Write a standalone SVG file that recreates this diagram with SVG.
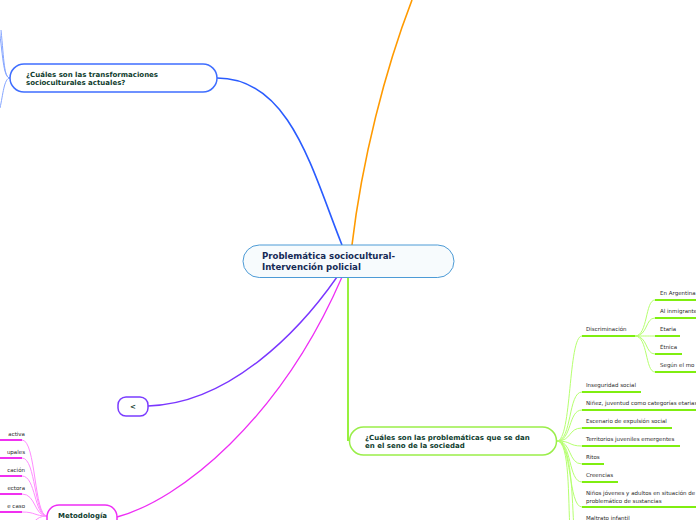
<svg xmlns="http://www.w3.org/2000/svg" width="696" height="520" viewBox="0 0 696 520">
<style>
.node{fill:#ffffff;stroke-width:1.5}
.ttl{font-family:"DejaVu Sans",Verdana,sans-serif;font-weight:bold;font-size:7px;fill:#0f3d2e}
.ctr{font-family:"DejaVu Sans",Verdana,sans-serif;font-weight:bold;font-size:8.6px;fill:#152a55}
.leaf{font-family:"DejaVu Sans",Verdana,sans-serif;font-size:5.5px;fill:#2a2a2a}
.gc{fill:none;stroke:#b6ff70;stroke-width:1}
.gu{fill:none;stroke:#7fee10;stroke-width:2}
.mc{fill:none;stroke:#ff8cff;stroke-width:1}
.mu{fill:none;stroke:#f030f0;stroke-width:2}
.bc{fill:none;stroke:#86a6ff;stroke-width:1}
</style>
<rect width="696" height="520" fill="#ffffff"/>
<g id="connectors">
  <path d="M217,78 C290,78 312,170 342,245" fill="none" stroke="#2a5cff" stroke-width="1.6"/>
  <path d="M352,245 C362,160 385,70 412,0" fill="none" stroke="#ff9a00" stroke-width="1.6"/>
  <path d="M148,406 C230,404 300,330 337,277" fill="none" stroke="#7a36ff" stroke-width="1.4"/>
  <path d="M117,517 C180,500 280,420 342,277" fill="none" stroke="#ee2ef5" stroke-width="1.3"/>
  <path d="M348,277 L348,441" fill="none" stroke="#8cf02a" stroke-width="1.8"/>
  <path class="bc" d="M10,78 C4,78 4,60 1,30"/>
  <path class="bc" d="M10,78 C3,78 3,55 -2,20"/>
  <path class="bc" d="M10,78 C4,78 3,95 0,108"/>
  <path class="gc" d="M557,441 C572,441 568,336 582,336"/>
  <path class="gc" d="M557,441 C572,441 568,392 582,392"/>
  <path class="gc" d="M557,441 C572,441 568,410 582,410"/>
  <path class="gc" d="M557,441 C572,441 568,428 582,428"/>
  <path class="gc" d="M557,441 C572,441 568,446 582,446"/>
  <path class="gc" d="M557,441 C572,441 568,464 582,464"/>
  <path class="gc" d="M557,441 C572,441 568,482 582,482"/>
  <path class="gc" d="M557,441 C572,441 568,507 582,507"/>
  <path class="gc" d="M557,441 C570,441 568,500 570,530"/>
  <path class="gc" d="M557,441 C572,441 572,500 574,530"/>
  <path class="gu" d="M582,336 L635,336"/>
  <path class="gu" d="M582,392 L641,392"/>
  <path class="gu" d="M582,410 L696,410"/>
  <path class="gu" d="M582,428 L672,428"/>
  <path class="gu" d="M582,446 L680,446"/>
  <path class="gu" d="M582,464 L604,464"/>
  <path class="gu" d="M582,482 L618,482"/>
  <path class="gu" d="M582,507 L696,507"/>
  <path class="gc" d="M635,336 C648,336 645,300 655,300"/>
  <path class="gc" d="M635,336 C648,336 645,318 655,318"/>
  <path class="gc" d="M635,336 C648,336 645,336 655,336"/>
  <path class="gc" d="M635,336 C648,336 645,354 655,354"/>
  <path class="gc" d="M635,336 C648,336 645,372 655,372"/>
  <path class="gu" d="M655,300 L696,300"/>
  <path class="gu" d="M655,318 L696,318"/>
  <path class="gu" d="M655,336 L680,336"/>
  <path class="gu" d="M655,354 L682,354"/>
  <path class="gu" d="M655,372 L696,372"/>
  <path class="mc" d="M47,516 C34,516 36,440 22,440"/>
  <path class="mc" d="M47,516 C34,516 36,458 22,458"/>
  <path class="mc" d="M47,516 C34,516 36,476 22,476"/>
  <path class="mc" d="M47,516 C34,516 36,494 22,494"/>
  <path class="mc" d="M47,516 C34,516 36,512 22,512"/>
  <path class="mc" d="M47,516 C34,516 36,525 22,528"/>
  <path class="mu" d="M0,440 L22,440"/>
  <path class="mu" d="M0,458 L22,458"/>
  <path class="mu" d="M0,476 L22,476"/>
  <path class="mu" d="M0,494 L22,494"/>
  <path class="mu" d="M0,512 L22,512"/>
</g>
<g id="central">
  <rect x="243" y="245" width="211" height="32.5" rx="16.25" fill="#f7fbfd" stroke="#4d9bd6" stroke-width="1"/>
  <text class="ctr" x="262" y="258.5">Problemática sociocultural-</text>
  <text class="ctr" x="262" y="269.5">Intervención policial</text>
</g>
<g id="transformaciones">
  <rect class="node" x="10" y="64" width="207" height="28" rx="14" stroke="#3f6eff"/>
  <text class="ttl" x="26" y="76.5">¿Cuáles son las transformaciones</text>
  <text class="ttl" x="26" y="84.5">socioculturales actuales?</text>
</g>
<g id="menor">
  <rect class="node" x="118" y="397" width="30" height="19" rx="8" stroke="#7a3cff"/>
  <text class="ttl" x="133" y="409" text-anchor="middle">&lt;</text>
</g>
<g id="metodologia">
  <rect class="node" x="47" y="505" width="70" height="28" rx="12" stroke="#ee2ef5"/>
  <text class="ttl" x="58" y="517.5">Metodología</text>
</g>
<g id="problematicas">
  <rect class="node" x="349.5" y="427" width="207" height="28" rx="14" stroke="#9aee4a"/>
  <text class="ttl" x="365" y="439.5">¿Cuáles son las problemáticas que se dan</text>
  <text class="ttl" x="365" y="447.5">en el seno de la sociedad</text>
</g>
<g id="leaves-right">
  <text class="leaf" x="586" y="331">Discriminación</text>
  <text class="leaf" x="660" y="295">En Argentina</text>
  <text class="leaf" x="660" y="313">Al inmigrante</text>
  <text class="leaf" x="660" y="331">Etaria</text>
  <text class="leaf" x="660" y="349">Étnica</text>
  <text class="leaf" x="660" y="367">Según el mo</text>
  <text class="leaf" x="586" y="387">Inseguridad social</text>
  <text class="leaf" x="586" y="405">Niñez, juventud como categorías etarias</text>
  <text class="leaf" x="586" y="423">Escenario de expulsión social</text>
  <text class="leaf" x="586" y="441">Territorios juveniles emergentes</text>
  <text class="leaf" x="586" y="459">Ritos</text>
  <text class="leaf" x="586" y="477">Creencias</text>
  <text class="leaf" x="586" y="495">Niños jóvenes y adultos en situación de</text>
  <text class="leaf" x="586" y="503">problemático de sustancias</text>
  <text class="leaf" x="586" y="520">Maltrato infantil</text>
</g>
<g id="leaves-left">
  <text class="leaf" x="25" y="436" text-anchor="end">activa</text>
  <text class="leaf" x="25" y="454" text-anchor="end">upales</text>
  <text class="leaf" x="25" y="472" text-anchor="end">cación</text>
  <text class="leaf" x="25" y="490" text-anchor="end">ectora</text>
  <text class="leaf" x="25" y="508" text-anchor="end">e caso</text>
</g>
</svg>
